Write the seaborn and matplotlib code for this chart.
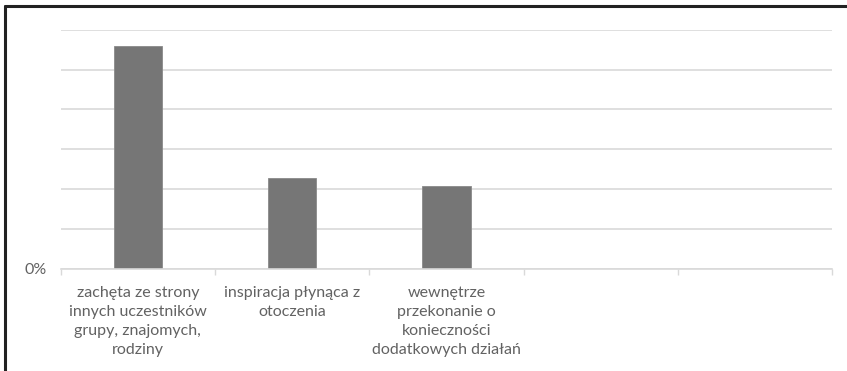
import matplotlib
matplotlib.use("Agg")
import matplotlib.pyplot as plt
import seaborn as sns
import numpy as np
import pandas as pd

categories = [
    "zachęta ze strony\ninnych uczestników\ngrupy, znajomych,\nrodziny",
    "inspiracja płynąca z\notoczenia",
    "wewnętrze\nprzekonanie o\nkonieczności\ndodatkowych działań",
    "",
    " ",
]
values = [0.560, 0.229, 0.209, np.nan, np.nan]
y_ticks = [0.0, 0.1, 0.2, 0.3, 0.4, 0.5, 0.6]
y_tick_labels = ["0%", "", "", "", "", "", ""]

sns.set_theme(style="white")
plt.rcParams['font.family'] = ['Lato', 'DejaVu Sans']

fig = plt.figure(figsize=(8.47, 3.71), dpi=100)
ax = fig.add_axes([0.0717, 0.275, 0.9109, 0.645])

df = pd.DataFrame({"cat": categories, "val": values})
sns.barplot(data=df, x="cat", y="val", order=categories, color="#767676",
            saturation=1, width=0.315, edgecolor="#8a8a8a", linewidth=0.6, ax=ax)

ax.set_ylim(0, 0.6)
ax.set_xlim(-0.5, len(categories) - 0.5)
ax.set_yticks(y_ticks)
ax.set_yticklabels(y_tick_labels)
ax.yaxis.grid(True, color="#d9d9d9", linewidth=1.2)
ax.set_axisbelow(True)
ax.set_xlabel("")
ax.set_ylabel("")

for s in ["top", "right", "left"]:
    ax.spines[s].set_visible(False)
ax.spines["bottom"].set_color("#d9d9d9")
ax.spines["bottom"].set_linewidth(1.2)

# category boundary ticks
ax.set_xticks([i - 0.5 for i in range(len(categories) + 1)], minor=True)
ax.tick_params(axis="x", which="minor", length=4, width=1, color="#d9d9d9", bottom=True)
ax.tick_params(axis="x", which="major", length=0, pad=12, labelsize=11.5, labelcolor="#626262")
ax.tick_params(axis="y", length=0, pad=10, labelsize=11.5, labelcolor="#626262")
for lbl in ax.get_xticklabels():
    lbl.set_linespacing(1.47)
    lbl.set_ha("center")

# figure frame (top and left edges)
fig.add_artist(plt.Line2D([0.0055, 1.0], [0.985, 0.985], transform=fig.transFigure,
                          color="#222222", linewidth=2.2))
fig.add_artist(plt.Line2D([0.0055, 0.0055], [0.0, 0.985], transform=fig.transFigure,
                          color="#222222", linewidth=2.2))

fig.savefig("out.png", dpi=100)
